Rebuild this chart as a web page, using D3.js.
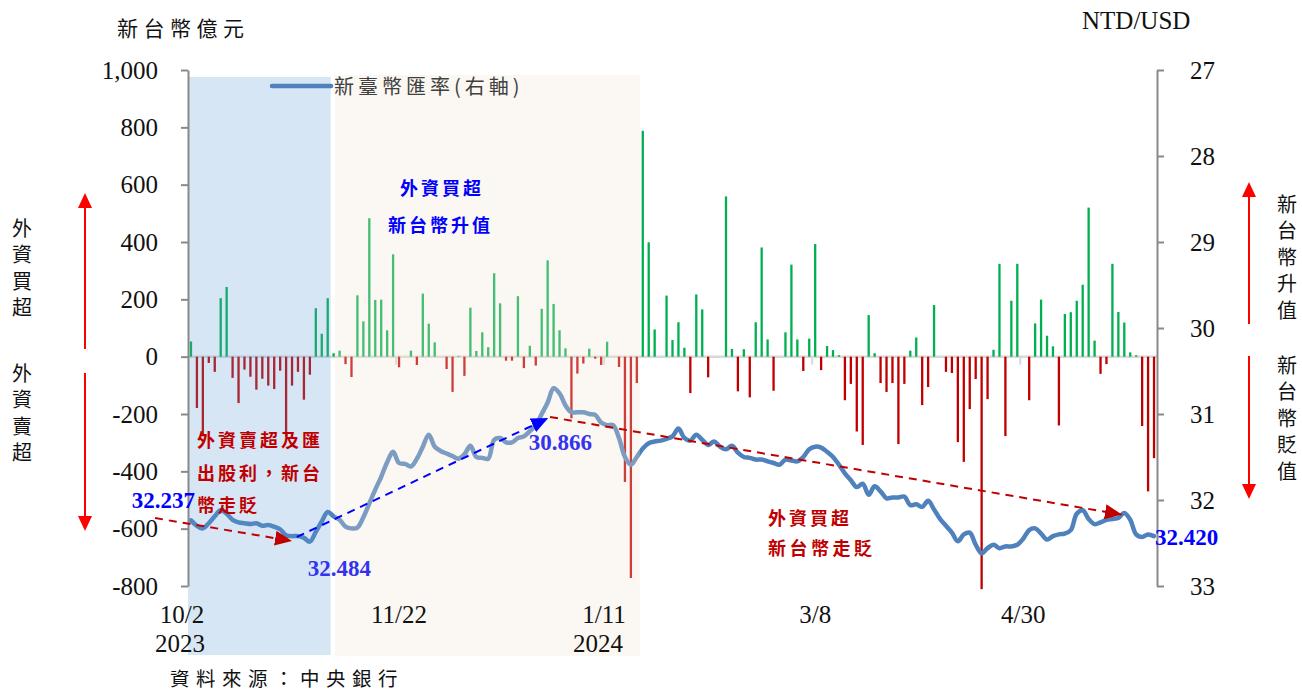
<!DOCTYPE html>
<html>
<head>
<meta charset="utf-8">
<script src="https://cdn.jsdelivr.net/npm/d3@7"></script>
<style>
  body { margin: 0; background: #fff; }
  svg text { font-family: "Liberation Serif", "Times New Roman", serif; }
  svg text.cjk { font-family: "Noto Sans CJK TC", "Noto Sans CJK SC", sans-serif; }
</style>
</head>
<body>
<svg id="chart" width="1302" height="693"></svg>
<script>
// Foreign investors' daily net buy/sell of Taiwan stocks (NT$ 100 million), 2023/10/2 - 2024/5/31
const netBuy = [
  53, -179, -278, -22, -53, 204, 243, -74, -162, -45,
  -70, -115, -77, -101, -113, -49, -278, -101, -53, -150,
  -63, 169, 80, 204, 12, 21, -26, -71, 214, 123,
  483, 198, 199, 92, 357, -37, 0, 21, -29, 220,
  115, 50, 0, -43, -123, 3, -67, 171, 20, 85,
  33, 291, 186, -14, -14, 211, -40, 38, -31, 167,
  336, 184, 92, 29, -215, -59, -24, 28, -7, -29,
  52, 0, -36, -437, -772, -92, 788, 399, 95, 0,
  213, 58, 120, 31, -127, 217, 165, -72, 0, 0,
  559, 27, -121, 26, -142, 120, 381, 60, -119, 0,
  85, 321, 60, -50, 63, 393, -47, 37, 23, 5,
  -152, -95, -261, -308, 145, 12, -92, -123, -92, -305,
  -95, 21, 67, -169, -106, 180, 0, -53, -57, -298,
  -367, -183, -78, -811, -148, 24, 324, -277, 195, 324,
  0, -152, 116, 199, 73, 36, -240, 149, 155, 195,
  251, 520, 56, -60, -26, 324, 156, 119, 15, 5,
  -242, -470, -354
];

// NTD per USD, same trading days (right axis)
const fxRate = [
  32.237, 32.30, 32.33, 32.27, 32.19, 32.12, 32.16, 32.23, 32.26, 32.27,
  32.28, 32.27, 32.30, 32.29, 32.31, 32.34, 32.41, 32.42, 32.42, 32.44,
  32.484, 32.37, 32.25, 32.14, 32.19, 32.23, 32.31, 32.33, 32.32, 32.20,
  32.04, 31.88, 31.73, 31.56, 31.44, 31.57, 31.58, 31.61, 31.52, 31.38,
  31.24, 31.38, 31.43, 31.46, 31.49, 31.52, 31.47, 31.37, 31.50, 31.51,
  31.52, 31.30, 31.28, 31.33, 31.33, 31.28, 31.26, 31.20, 31.13, 31.00,
  30.866, 30.70, 30.76, 30.90, 30.98, 30.98, 30.98, 31.00, 31.01, 31.10,
  31.13, 31.13, 31.28, 31.50, 31.59, 31.50, 31.40, 31.34, 31.32, 31.31,
  31.29, 31.26, 31.17, 31.28, 31.31, 31.24, 31.30, 31.36, 31.32, 31.38,
  31.41, 31.37, 31.45, 31.50, 31.51, 31.53, 31.53, 31.55, 31.57, 31.59,
  31.53, 31.54, 31.55, 31.50, 31.41, 31.38, 31.39, 31.44, 31.50, 31.59,
  31.69, 31.77, 31.85, 31.81, 31.94, 31.84, 31.90, 31.98, 31.97, 31.97,
  31.96, 32.06, 32.05, 32.08, 32.01, 32.11, 32.22, 32.30, 32.38, 32.48,
  32.40, 32.38, 32.52, 32.62, 32.56, 32.52, 32.56, 32.54, 32.54, 32.52,
  32.45, 32.35, 32.33, 32.39, 32.46, 32.42, 32.40, 32.39, 32.35, 32.16,
  32.12, 32.22, 32.28, 32.26, 32.23, 32.22, 32.21, 32.15, 32.23, 32.40,
  32.43, 32.40, 32.420
];

// Category axis labels (trading-day index, date, year)
const tickIndex = [0, 35, 70, 105, 140];
const tickDates = ["10/2", "11/22", "1/11", "3/8", "4/30"];
const tickYears = ["2023", "", "2024", "", ""];

const leftTicks = [1000, 800, 600, 400, 200, 0, -200, -400, -600, -800];
const rightTicks = [27, 28, 29, 30, 31, 32, 33];

// Highlighted periods (trading-day index ranges)
const periodStart = [0, 24.7];
const periodEnd = [24, 76];

// Labelled exchange-rate points
const labelIndex = [0, 20, 60, 162];

const svg = d3.select("#chart");
const plot = { left: 188, right: 1157, top: 70, bottom: 586 };
const n = netBuy.length;

const x = d3.scaleLinear().domain([-0.5, n - 0.5]).range([plot.left, plot.right]);
const yL = d3.scaleLinear().domain([-800, 1000]).range([plot.bottom, plot.top]);
const yR = d3.scaleLinear().domain([27, 33]).range([plot.top, plot.bottom]);

const fmt = d3.formatLocale({ decimal: ".", thousands: ",", grouping: [3], currency: ["", ""], minus: "-" }).format(",");

// ---- zero line and category ticks
svg.append("line")
  .attr("x1", plot.left).attr("x2", plot.right)
  .attr("y1", yL(0)).attr("y2", yL(0))
  .attr("stroke", "#d9d9d9").attr("stroke-width", 2.5);

svg.append("g").selectAll("line").data(tickIndex.slice(1)).join("line")
  .attr("x1", d => x(d - 0.5)).attr("x2", d => x(d - 0.5))
  .attr("y1", yL(0)).attr("y2", yL(0) + 8)
  .attr("stroke", "#d9d9d9").attr("stroke-width", 2);

// ---- bars
const barW = 2.3;
svg.append("g").selectAll("rect").data(netBuy).join("rect")
  .attr("x", (d, i) => x(i) - barW / 2)
  .attr("width", barW)
  .attr("y", d => d >= 0 ? yL(d) : yL(0))
  .attr("height", d => Math.abs(yL(d) - yL(0)))
  .attr("fill", d => d >= 0 ? "#00b050" : "#c00000");

// ---- exchange-rate line
const line = d3.line()
  .x((d, i) => x(i))
  .y(d => yR(d))
  .curve(d3.curveCatmullRom.alpha(0.5));

svg.append("path")
  .datum(fxRate)
  .attr("d", line)
  .attr("fill", "none")
  .attr("stroke", "#4f81bd")
  .attr("stroke-width", 4.5)
  .attr("stroke-linejoin", "round")
  .attr("stroke-linecap", "round");

// ---- translucent period shading
svg.append("rect")
  .attr("x", x(periodStart[0] - 0.5)).attr("width", x(periodEnd[0] - 0.5) - x(periodStart[0] - 0.5))
  .attr("y", 77).attr("height", 655 - 77)
  .attr("fill", "rgb(91,155,213)").attr("fill-opacity", 0.25);

svg.append("rect")
  .attr("x", x(periodStart[1] - 0.5)).attr("width", x(periodEnd[1] - 0.5) - x(periodStart[1] - 0.5))
  .attr("y", 75).attr("height", 656 - 75)
  .attr("fill", "rgb(240,225,210)").attr("fill-opacity", 0.28);

// ---- axes
const axisColor = "#898989";
const gL = svg.append("g").attr("transform", `translate(${plot.left},0)`)
  .call(d3.axisLeft(yL).tickValues(leftTicks).tickSize(7).tickSizeOuter(0).tickPadding(23).tickFormat(fmt));
const gR = svg.append("g").attr("transform", `translate(${plot.right},0)`)
  .call(d3.axisRight(yR).tickValues(rightTicks).tickSize(7).tickSizeOuter(0).tickPadding(26).tickFormat(d3.format("d")));
[gL, gR].forEach(g => {
  g.select(".domain").attr("stroke", axisColor).attr("stroke-width", 2);
  g.selectAll(".tick line").attr("stroke", axisColor).attr("stroke-width", 2);
  g.selectAll(".tick text")
    .attr("font-family", "Liberation Serif, Times New Roman, serif")
    .attr("font-size", 25).attr("fill", "#111");
});

// ---- category labels
const xl = svg.append("g");
tickIndex.forEach((idx, k) => {
  const dx = k === 0 ? -9 : (k === 2 ? -3 : 0);
  xl.append("text").attr("x", x(idx) + dx).attr("y", 623)
    .attr("text-anchor", "middle").attr("font-size", 25).attr("fill", "#111")
    .text(tickDates[k]);
  if (tickYears[k]) {
    xl.append("text").attr("x", x(idx) + (k === 0 ? -11 : -9)).attr("y", 652)
      .attr("text-anchor", "middle").attr("font-size", 25).attr("fill", "#111")
      .text(tickYears[k]);
  }
});

// ---- axis titles & source
svg.append("text").attr("class", "cjk").attr("x", 117).attr("y", 36)
  .attr("font-size", 21).attr("letter-spacing", 5.5).attr("fill", "#111").text("新台幣億元");
svg.append("text").attr("x", 1082).attr("y", 29)
  .attr("font-size", 25).attr("fill", "#111").text("NTD/USD");
svg.append("text").attr("class", "cjk").attr("x", 170).attr("y", 686)
  .attr("font-size", 19.5).attr("letter-spacing", 6.5).attr("fill", "#111").text("資料來源：中央銀行");

// ---- legend
svg.append("line").attr("x1", 272).attr("x2", 331).attr("y1", 86).attr("y2", 86)
  .attr("stroke", "#4f81bd").attr("stroke-width", 4.5).attr("stroke-linecap", "round");
svg.append("text").attr("class", "cjk").attr("x", 334).attr("y", 94)
  .attr("font-size", 20).attr("letter-spacing", 4).attr("fill", "#404040").text("新臺幣匯率(右軸)");

// ---- vertical side notes with double arrows
function verticalText(str, cx, cy0, step) {
  const g = svg.append("g");
  Array.from(str).forEach((ch, k) => {
    g.append("text").attr("class", "cjk")
      .attr("x", cx).attr("y", cy0 + k * step)
      .attr("text-anchor", "middle").attr("dominant-baseline", "central")
      .attr("font-size", 20).attr("fill", "#111").text(ch);
  });
}
verticalText("外資買超", 22, 227, 26.5);
verticalText("外資賣超", 22, 372, 26.5);
verticalText("新台幣升值", 1287, 203, 26.5);
verticalText("新台幣貶值", 1287, 364, 26.5);

function arrow(cx, yFrom, yTip) {
  const dir = yTip < yFrom ? -1 : 1;
  const base = yTip - dir * 15;
  svg.append("line").attr("x1", cx).attr("x2", cx).attr("y1", yFrom).attr("y2", base)
    .attr("stroke", "#ff0000").attr("stroke-width", 2);
  svg.append("path")
    .attr("d", `M${cx - 7},${base}L${cx + 7},${base}L${cx},${yTip}Z`)
    .attr("fill", "#ff0000");
}
arrow(85, 349, 193);
arrow(85, 373, 531);
arrow(1249, 324, 182);
arrow(1249, 356, 499);

// ---- trend arrows (category index, NTD/USD)
const defs = svg.append("defs");
function marker(id, color) {
  defs.append("marker").attr("id", id)
    .attr("viewBox", "0 0 17 15").attr("refX", 17).attr("refY", 7.5)
    .attr("markerWidth", 17).attr("markerHeight", 15)
    .attr("markerUnits", "userSpaceOnUse").attr("orient", "auto")
    .append("path").attr("d", "M0,0L17,7.5L0,15Z").attr("fill", color);
}
marker("headRed", "#c00000");
marker("headBlue", "#0000ff");

const trends = [
  { from: [-6.05, 32.21], to: [17.0, 32.477], color: "#c00000", head: "headRed" },
  { from: [17.8, 32.43], to: [60.1, 31.047], color: "#0000ff", head: "headBlue" },
  { from: [60.4, 31.035], to: [156.6, 32.17], color: "#c00000", head: "headRed" }
];
svg.append("g").selectAll("line").data(trends).join("line")
  .attr("x1", d => x(d.from[0])).attr("y1", d => yR(d.from[1]))
  .attr("x2", d => x(d.to[0])).attr("y2", d => yR(d.to[1]))
  .attr("stroke", d => d.color).attr("stroke-width", 2)
  .attr("stroke-dasharray", "8,6")
  .attr("marker-end", d => `url(#${d.head})`);

// ---- rate value labels
const labelStyle = [
  { dx: 4, dy: -12, anchor: "end", color: "#0000ff" },
  { dx: -2, dy: 34, anchor: "start", color: "#3333ee" },
  { dx: -19, dy: 48, anchor: "start", color: "#3333ee" },
  { dx: 1, dy: 9, anchor: "start", color: "#0000ff" }
];
labelIndex.forEach((idx, k) => {
  const s = labelStyle[k];
  svg.append("text")
    .attr("x", x(idx) + s.dx).attr("y", yR(fxRate[idx]) + s.dy)
    .attr("text-anchor", s.anchor)
    .attr("font-size", 23).attr("font-weight", "bold").attr("fill", s.color)
    .text(fxRate[idx].toFixed(3));
});

// ---- text notes
function note(lines, x0, y0, lh, color, spacing) {
  lines.forEach((t, k) => {
    svg.append("text").attr("class", "cjk")
      .attr("x", x0).attr("y", y0 + k * lh)
      .attr("font-size", 18).attr("font-weight", "bold")
      .attr("letter-spacing", spacing).attr("fill", color).text(t);
  });
}
note(["外資買超"], 400, 195, 0, "#0000ff", 3);
note(["新台幣升值"], 388, 232, 0, "#0000ff", 3);
note(["外資賣超及匯", "出股利，新台", "幣走貶"], 197, 447, 32.5, "#c00000", 3);
note(["外資買超"], 768, 525, 0, "#c00000", 3);
note(["新台幣走貶"], 768, 555, 0, "#c00000", 3.5);
</script>
</body>
</html>
